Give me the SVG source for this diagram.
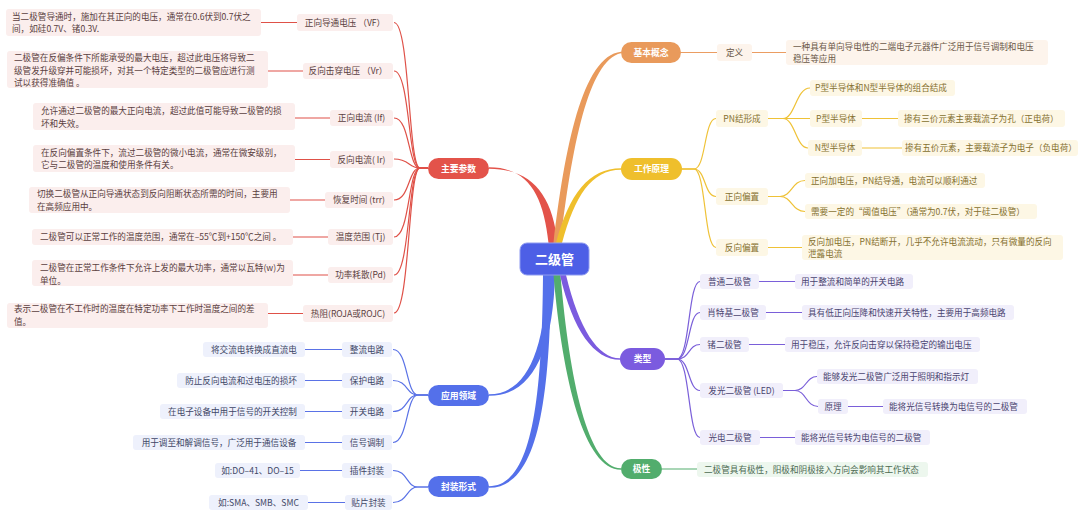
<svg xmlns="http://www.w3.org/2000/svg" width="1080" height="518" viewBox="0 0 1080 518">
<style>
text{font-family:"Noto Sans CJK SC","Noto Sans",sans-serif;font-size:8.6px}
.c{text-anchor:middle}
.mn text{fill:#fff;font-weight:bold;font-size:8.8px;text-anchor:middle}
.ln{fill:none;stroke-width:1.2}
.r .b{fill:#fbeeed}.r text{fill:#5a4040}.r-s{stroke:#df5148}
.o .b{fill:#fdf4ec}.o text{fill:#6a5848}.o-s{stroke:#eb9d62}
.y .b{fill:#fdf7e5}.y text{fill:#85702e}.y-s{stroke:#efc237}
.p .b{fill:#f1effb}.p text{fill:#4a4470}.p-s{stroke:#7a5fd9}
.u .b{fill:#eef1fc}.u text{fill:#3e4766}.u-s{stroke:#5a72e6}
.g .b{fill:#edf7ee}.g text{fill:#4c6a52}.g-s{stroke:#55ad6e}
</style>
<rect width="1080" height="518" fill="#ffffff"/>

<!-- main branches -->
<g id="branches">
<path d="M548.5,243 C543.5,195 528,167.25 489,167.25 L489,168.75 C532,168.75 552.5,195 557.5,243 Z" fill="#e3534a"/>
<path d="M553.5,243 C564.5,150 582,56 621,51.75 L621,53.25 C588,60 571.5,150 560.5,243 Z" fill="#e99a5b"/>
<path d="M556,243 C569,194 589,168.25 621,168.25 L621,169.75 C591,170 575,196 562,243 Z" fill="#efbf2c"/>
<path d="M547,275 C545,350 527,394.25 489,394.25 L489,395.75 C533,396 553,350 555,275 Z" fill="#5470ea"/>
<path d="M543,275 C542,400 532,486.25 489,486.25 L489,487.75 C538,488 550,400 551,275 Z" fill="#5470ea"/>
<path d="M553.5,275 C562.5,380 584,469.75 621,469.75 L621,468.25 C588,468.25 569.5,380 560.5,275 Z" fill="#52ad6d"/>
<path d="M560,275 C573,331 594,359.75 620,359.75 L620,358.25 C598,358.25 579,329 566,275 Z" fill="#7b5bdf"/>
</g>

<!-- connectors -->
<g id="connectors">
<g class="ln r-s">
<path d="M428,168 H420 C408,168 410,22.5 394,22.5"/>
<path d="M428,168 H420 C408,168 410,71 394,71"/>
<path d="M428,168 H420 C408,168 410,118 394,118"/>
<path d="M428,168 H420 C408,168 410,159 394,159"/>
<path d="M428,168 H420 C408,168 410,200 394,200"/>
<path d="M428,168 H420 C408,168 410,237 394,237"/>
<path d="M428,168 H420 C408,168 410,275 394,275"/>
<path d="M428,168 H420 C408,168 410,313 394,313"/>
<path d="M261,22.5 H297 M268,71 H303 M295,118 H330 M295,159.5 H330 M290,200 H325 M293,237 H328 M293,275 H328 M268,313.5 H303"/>
</g>
<g class="ln u-s">
<path d="M428,395 H418 C406,395 408,349.5 393,349.5"/>
<path d="M428,395 H418 C406,395 408,380.5 393,380.5"/>
<path d="M428,395 H418 C406,395 408,411.5 393,411.5"/>
<path d="M428,395 H418 C406,395 408,442.5 393,442.5"/>
<path d="M428,487 H418 C406,487 408,470.5 393,470.5"/>
<path d="M428,487 H418 C406,487 408,502.5 393,502.5"/>
<path d="M305,349.5 H342 M305,380.5 H342 M305,411.5 H342 M305,442.5 H342 M300,470.5 H342 M308,502.5 H345"/>
</g>
<g class="ln o-s">
<path d="M681,52.5 H717 M752,52.5 H786"/>
</g>
<g class="ln y-s">
<path d="M682,169 H694 C706,169 704,118.5 716,118.5"/>
<path d="M682,169 H694 C706,169 704,196.5 716,196.5"/>
<path d="M682,169 H694 C706,169 704,247.5 716,247.5"/>
<path d="M768,118.5 H783 C795,118.5 796,88 810,88"/>
<path d="M768,118.5 H810"/>
<path d="M783,118.5 C795,118.5 796,148 808,148"/>
<path d="M768,196.5 H780 C792,196.5 792,180.5 805,180.5"/>
<path d="M780,196.5 C792,196.5 792,211.5 805,211.5"/>
<path d="M862,118.5 H898 M862,148 H902 M768,247.5 H802"/>
</g>
<g class="ln p-s">
<path d="M665,359 H677 C690,359 688,281.5 700,281.5"/>
<path d="M665,359 H677 C690,359 688,312.5 700,312.5"/>
<path d="M665,359 H677 C690,359 688,344.5 700,344.5"/>
<path d="M665,359 H677 C690,359 688,390.5 700,390.5"/>
<path d="M665,359 H677 C690,359 688,437.5 700,437.5"/>
<path d="M783,390.5 H795 C806,390.5 806,376.5 817,376.5"/>
<path d="M795,390.5 C806,390.5 806,406.5 818,406.5"/>
<path d="M759,281.5 H795 M766,312.5 H802 M749,344.5 H785 M848,406.5 H883 M760,437.5 H795"/>
</g>
<g class="ln g-s">
<path d="M662,469 H697"/>
</g>
</g>

<!-- center -->
<g id="center">
<rect x="520" y="243" width="69" height="32" rx="7" fill="#4d5fe6" stroke="#8e9bf0" stroke-width="1"/>
<text x="554.5" y="263.5" fill="#ffffff" font-weight="bold" text-anchor="middle" style="font-size:13px">二级管</text>
</g>

<!-- main topic nodes -->
<g id="n-zycs" class="mn"><rect x="428" y="158" width="61" height="21" rx="10.5" fill="#e3534a"/><text x="458.5" y="171.5">主要参数</text></g>
<g id="n-jbgn" class="mn"><rect x="621" y="42" width="60" height="21" rx="10.5" fill="#e99a5b"/><text x="651" y="55.5">基本概念</text></g>
<g id="n-gzyl" class="mn"><rect x="621" y="158" width="61" height="22" rx="11" fill="#efbf2c"/><text x="651.5" y="172">工作原理</text></g>
<g id="n-lx" class="mn"><rect x="620" y="348" width="45" height="22" rx="11" fill="#7b5bdf"/><text x="642.5" y="362">类型</text></g>
<g id="n-jx" class="mn"><rect x="621" y="459" width="41" height="20" rx="10" fill="#52ad6d"/><text x="641.5" y="472">极性</text></g>
<g id="n-yyly" class="mn"><rect x="428" y="385" width="61" height="21" rx="10.5" fill="#5470ea"/><text x="458.5" y="398.5">应用领域</text></g>
<g id="n-fzxs" class="mn"><rect x="428" y="476" width="61" height="21" rx="10.5" fill="#5470ea"/><text x="458.5" y="489.5">封装形式</text></g>

<!-- 主要参数 children -->
<g id="r1" class="r"><rect class="b" x="297" y="14" width="96" height="17" rx="3"/><text class="c" x="345" y="25.5">正向导通电压 （VF）</text>
<rect class="b" x="6" y="9" width="255" height="27" rx="3"/><text x="12" y="20">当二极管导通时，施加在其正向的电压，通常在0.6伏到0.7伏之</text><text x="12" y="32">间，如硅0.7V、锗0.3V.</text></g>
<g id="r2" class="r"><rect class="b" x="303" y="63" width="90" height="16" rx="3"/><text class="c" x="348" y="74">反向击穿电压 （Vr）</text>
<rect class="b" x="7" y="51" width="261" height="37" rx="3"/><text x="14" y="61">二极管在反偏条件下所能承受的最大电压，超过此电压将导致二</text><text x="14" y="73.5">级管发升级穿并可能损坏，对其一个特定类型的二极管应进行测</text><text x="14" y="86">试以获得准确值 。</text></g>
<g id="r3" class="r"><rect class="b" x="330" y="110" width="63" height="16" rx="3"/><text class="c" x="361.5" y="121">正向电流 (If)</text>
<rect class="b" x="33" y="103" width="262" height="27" rx="3"/><text x="41" y="114">允许通过二极管的最大正向电流，超过此值可能导致二极管的损</text><text x="41" y="127">坏和失效。</text></g>
<g id="r4" class="r"><rect class="b" x="330" y="151" width="63" height="17" rx="3"/><text class="c" x="361.5" y="162.5">反向电流( Ir)</text>
<rect class="b" x="33" y="145" width="262" height="27" rx="3"/><text x="41" y="155.5">在反向偏置条件下，流过二极管的微小电流，通常在微安级别，</text><text x="41" y="168">它与二极管的温度和使用条件有关。</text></g>
<g id="r5" class="r"><rect class="b" x="325" y="192" width="68" height="16" rx="3"/><text class="c" x="359" y="203">恢复时间 (trr)</text>
<rect class="b" x="29" y="187" width="261" height="26" rx="3"/><text x="37" y="197">切换二极管从正向导通状态到反向阻断状态所需的时间，主要用</text><text x="37" y="210">在高频应用中。</text></g>
<g id="r6" class="r"><rect class="b" x="328" y="229" width="65" height="16" rx="3"/><text class="c" x="360.5" y="240">温度范围 (Tj)</text>
<rect class="b" x="32" y="229" width="261" height="16" rx="3"/><text x="40" y="240">二极管可以正常工作的温度范围，通常在–55℃到+150℃之间 。</text></g>
<g id="r7" class="r"><rect class="b" x="328" y="267" width="65" height="16" rx="3"/><text class="c" x="360.5" y="278">功率耗散(Pd)</text>
<rect class="b" x="32" y="260" width="261" height="26" rx="3"/><text x="40" y="271">二极管在正常工作条件下允许上发的最大功率，通常以瓦特(w)为</text><text x="40" y="283.5">单位。</text></g>
<g id="r8" class="r"><rect class="b" x="303" y="305" width="90" height="17" rx="3"/><text class="c" x="348" y="316.5">热阻(ROJA或ROJC)</text>
<rect class="b" x="7" y="303" width="261" height="25" rx="3"/><text x="14" y="312">表示二极管在不工作时的温度在特定功率下工作时温度之间的差</text><text x="14" y="324.5">值。</text></g>

<!-- 基本概念 children -->
<g id="o1" class="o"><rect class="b" x="717" y="44" width="35" height="17" rx="3"/><text class="c" x="734.5" y="55.5">定义</text>
<rect class="b" x="786" y="40" width="262" height="25" rx="3"/><text x="793" y="49.5">一种具有单向导电性的二端电子元器件广泛用于信号调制和电压</text><text x="793" y="61.5">稳压等应用</text></g>

<!-- 工作原理 children -->
<g id="y1" class="y"><rect class="b" x="716" y="110" width="52" height="17" rx="3"/><text class="c" x="742" y="121.5">PN结形成</text></g>
<g id="y1a" class="y"><rect class="b" x="810" y="80" width="145" height="16" rx="3"/><text x="815" y="91">P型半导体和N型半导体的组合结成</text></g>
<g id="y1b" class="y"><rect class="b" x="810" y="110" width="52" height="17" rx="3"/><text class="c" x="836" y="121.5">P型半导体</text>
<rect class="b" x="898" y="110" width="167" height="17" rx="3"/><text x="904" y="121.5">掺有三价元素主要载流子为孔（正电荷）</text></g>
<g id="y1c" class="y"><rect class="b" x="808" y="140" width="54" height="16" rx="3"/><text class="c" x="835" y="151">N型半导体</text>
<rect class="b" x="902" y="140" width="176" height="16" rx="3"/><text x="905" y="151">掺有五价元素，主要载流子为电子（负电荷）</text></g>
<g id="y2" class="y"><rect class="b" x="716" y="188" width="52" height="17" rx="3"/><text class="c" x="742" y="199.5">正向偏置</text></g>
<g id="y2a" class="y"><rect class="b" x="805" y="173" width="180" height="15" rx="3"/><text x="811" y="183.5">正向加电压，PN结导通，电流可以顺利通过</text></g>
<g id="y2b" class="y"><rect class="b" x="805" y="204" width="232" height="15" rx="3"/><text x="811" y="214.5">需要一定的“阈值电压”（通常为0.7伏，对于硅二极管）</text></g>
<g id="y3" class="y"><rect class="b" x="716" y="239" width="52" height="17" rx="3"/><text class="c" x="742" y="250.5">反向偏置</text>
<rect class="b" x="802" y="235" width="261" height="25" rx="3"/><text x="808" y="244.5">反向加电压，PN结断开，几乎不允许电流流动，只有微量的反向</text><text x="808" y="257">泄露电流</text></g>

<!-- 类型 children -->
<g id="p1" class="p"><rect class="b" x="700" y="274" width="59" height="15" rx="3"/><text class="c" x="729.5" y="284.5">普通二极管</text>
<rect class="b" x="795" y="274" width="118" height="15" rx="3"/><text x="801" y="284.5">用于整流和简单的开关电路</text></g>
<g id="p2" class="p"><rect class="b" x="700" y="305" width="66" height="15" rx="3"/><text class="c" x="733" y="315.5">肖特基二极管</text>
<rect class="b" x="802" y="305" width="212" height="15" rx="3"/><text x="808" y="315.5">具有低正向压降和快速开关特性，主要用于高频电路</text></g>
<g id="p3" class="p"><rect class="b" x="700" y="337" width="49" height="15" rx="3"/><text class="c" x="724.5" y="347.5">锗二极管</text>
<rect class="b" x="785" y="337" width="195" height="15" rx="3"/><text x="791" y="347.5">用于稳压，允许反向击穿以保持稳定的输出电压</text></g>
<g id="p4" class="p"><rect class="b" x="700" y="383" width="83" height="15" rx="3"/><text class="c" x="741.5" y="393.5">发光二极管 (LED)</text></g>
<g id="p4a" class="p"><rect class="b" x="817" y="369" width="161" height="15" rx="3"/><text x="823" y="379.5">能够发光二极管广泛用于照明和指示灯</text></g>
<g id="p4b" class="p"><rect class="b" x="818" y="399" width="30" height="15" rx="3"/><text class="c" x="833" y="409.5">原理</text>
<rect class="b" x="883" y="399" width="144" height="15" rx="3"/><text x="889" y="409.5">能将光信号转换为电信号的二极管</text></g>
<g id="p5" class="p"><rect class="b" x="700" y="430" width="60" height="15" rx="3"/><text class="c" x="730" y="440.5">光电二极管</text>
<rect class="b" x="795" y="430" width="135" height="15" rx="3"/><text x="801" y="440.5">能将光信号转为电信号的二极管</text></g>

<!-- 极性 child -->
<g id="g1" class="g"><rect class="b" x="697" y="462" width="231" height="15" rx="3"/><text x="704" y="472.5">二极管具有极性，阳极和阴极接入方向会影响其工作状态</text></g>

<!-- 应用领域 children -->
<g id="u1" class="u"><rect class="b" x="342" y="342" width="50" height="15" rx="3"/><text class="c" x="367" y="352.5">整流电路</text>
<rect class="b" x="203" y="342" width="102" height="15" rx="3"/><text class="c" x="254" y="352.5">将交流电转换成直流电</text></g>
<g id="u2" class="u"><rect class="b" x="342" y="373" width="50" height="15" rx="3"/><text class="c" x="367" y="383.5">保护电路</text>
<rect class="b" x="177" y="373" width="128" height="15" rx="3"/><text class="c" x="241" y="383.5">防止反向电流和过电压的损坏</text></g>
<g id="u3" class="u"><rect class="b" x="342" y="404" width="50" height="15" rx="3"/><text class="c" x="367" y="414.5">开关电路</text>
<rect class="b" x="160" y="404" width="145" height="15" rx="3"/><text class="c" x="232.5" y="414.5">在电子设备中用于信号的开关控制</text></g>
<g id="u4" class="u"><rect class="b" x="342" y="435" width="50" height="15" rx="3"/><text class="c" x="367" y="445.5">信号调制</text>
<rect class="b" x="133" y="435" width="172" height="15" rx="3"/><text class="c" x="219" y="445.5">用于调至和解调信号，广泛用于通信设备</text></g>

<!-- 封装形式 children -->
<g id="u5" class="u"><rect class="b" x="342" y="463" width="50" height="15" rx="3"/><text class="c" x="367" y="473.5">插件封装</text>
<rect class="b" x="215" y="463" width="85" height="15" rx="3"/><text class="c" x="257.5" y="473.5">如:DO–41、DO–15</text></g>
<g id="u6" class="u"><rect class="b" x="345" y="495" width="47" height="15" rx="3"/><text class="c" x="368.5" y="505.5">贴片封装</text>
<rect class="b" x="209" y="495" width="99" height="15" rx="3"/><text class="c" x="258.5" y="505.5">如:SMA、SMB、SMC</text></g>
</svg>
